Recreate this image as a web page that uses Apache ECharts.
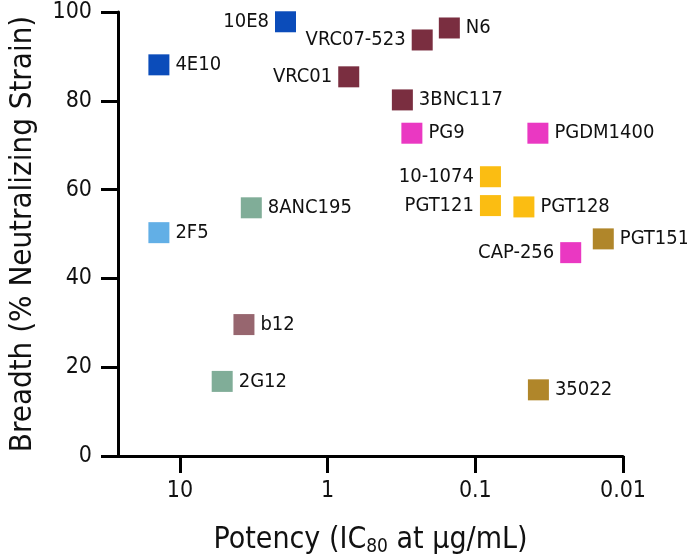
<!DOCTYPE html>
<html>
<head>
<meta charset="utf-8">
<script src="https://cdn.jsdelivr.net/npm/echarts@6/dist/echarts.min.js"></script>
<style>
  html, body { margin: 0; padding: 0; background: #fff; }
  #chart { width: 687px; height: 559px; }
</style>
</head>
<body>
<div id="chart"></div>
<script>
// antibody data
var antibodies = ["10E8", "4E10", "2F5", "VRC01", "VRC07-523", "N6", "3BNC117", "PG9", "PGDM1400", "CAP-256",
  "10-1074", "PGT121", "PGT128", "PGT151", "35022", "8ANC195", "2G12", "b12"];
var ic80 = [1.93, 13.9, 13.9, 0.72, 0.229, 0.15, 0.312, 0.269, 0.0377, 0.0226,
  0.079, 0.079, 0.0469, 0.0136, 0.0374, 3.29, 5.18, 3.69];
var breadth = [97.8, 88.1, 50.3, 85.4, 93.7, 96.4, 80.2, 72.7, 72.7, 45.8,
  62.9, 56.4, 56.1, 48.9, 14.9, 55.9, 16.8, 29.6];
var groups = ["mper", "mper", "mper2f5", "cd4bs", "cd4bs", "cd4bs", "cd4bs", "v2", "v2", "v2",
  "v3", "v3", "v3", "interface", "interface", "interface2", "interface2", "cd4bs2"];
var labelLeft = ["10E8", "VRC07-523", "VRC01", "10-1074", "PGT121", "CAP-256"];
var xTicks = [10, 1, 0.1, 0.01];

var groupColors = {
  mper: "#0b4cba",
  mper2f5: "#62afe6",
  cd4bs: "#7a2e40",
  v2: "#ea38c2",
  v3: "#fbbd12",
  interface: "#b0862a",
  interface2: "#80ad98",
  cd4bs2: "#97666f"
};

(function () {
  var myechart = echarts.init(document.getElementById("chart"));
  var font = "'DejaVu Sans Condensed', 'DejaVu Sans', sans-serif";

  var series = [];
  Object.keys(groupColors).forEach(function (g) {
    var data = [];
    for (var i = 0; i < antibodies.length; i++) {
      if (groups[i] !== g) continue;
      var left = labelLeft.indexOf(antibodies[i]) >= 0;
      data.push({
        name: antibodies[i],
        value: [ic80[i], breadth[i]],
        label: { position: left ? "left" : "right" }
      });
    }
    series.push({
      name: g,
      type: "scatter",
      symbol: "rect",
      symbolSize: 21,
      itemStyle: { color: groupColors[g], opacity: 1 },
      label: {
        show: true,
        formatter: "{b}",
        distance: 6,
        color: "#111",
        fontSize: 20,
        fontFamily: font
      },
      data: data
    });
  });

  var option = {
    animation: false,
    grid: { left: 118, right: 64, top: 12, bottom: 103, outerBoundsMode: "none", containLabel: false },
    xAxis: {
      type: "log",
      inverse: true,
      min: 0.01,
      max: 26.3,
      name: "Potency (IC{sub|80} at µg/mL)",
      nameLocation: "middle",
      nameGap: 68,
      nameTextStyle: {
        color: "#111",
        fontSize: 30,
        fontFamily: font,
        rich: {
          sub: { fontSize: 19, fontFamily: font, color: "#111", padding: [14, 0, 0, 0] }
        }
      },
      axisLine: { lineStyle: { color: "#000", width: 3 } },
      axisTick: { show: true, length: 17, lineStyle: { width: 3, color: "#000" }, customValues: xTicks },
      axisLabel: {
        customValues: xTicks,
        margin: 24,
        color: "#111",
        fontSize: 23,
        fontFamily: font,
        formatter: function (v) { return String(+v.toPrecision(3)); }
      },
      splitLine: { show: false },
      minorTick: { show: false }
    },
    yAxis: {
      type: "value",
      min: 0,
      max: 100,
      interval: 20,
      name: "Breadth (% Neutralizing Strain)",
      nameLocation: "middle",
      nameGap: 80,
      nameTextStyle: { color: "#111", fontSize: 31, fontFamily: font },
      axisLine: { show: true, lineStyle: { color: "#000", width: 3 } },
      axisTick: { show: true, length: 17, lineStyle: { width: 3, color: "#000" } },
      axisLabel: { margin: 26, color: "#111", fontSize: 23, fontFamily: font },
      splitLine: { show: false }
    },
    series: series
  };

  myechart.setOption(option);
  window.addEventListener("resize", function () {
    myechart.resize();
  });
})();
</script>
</body>
</html>
